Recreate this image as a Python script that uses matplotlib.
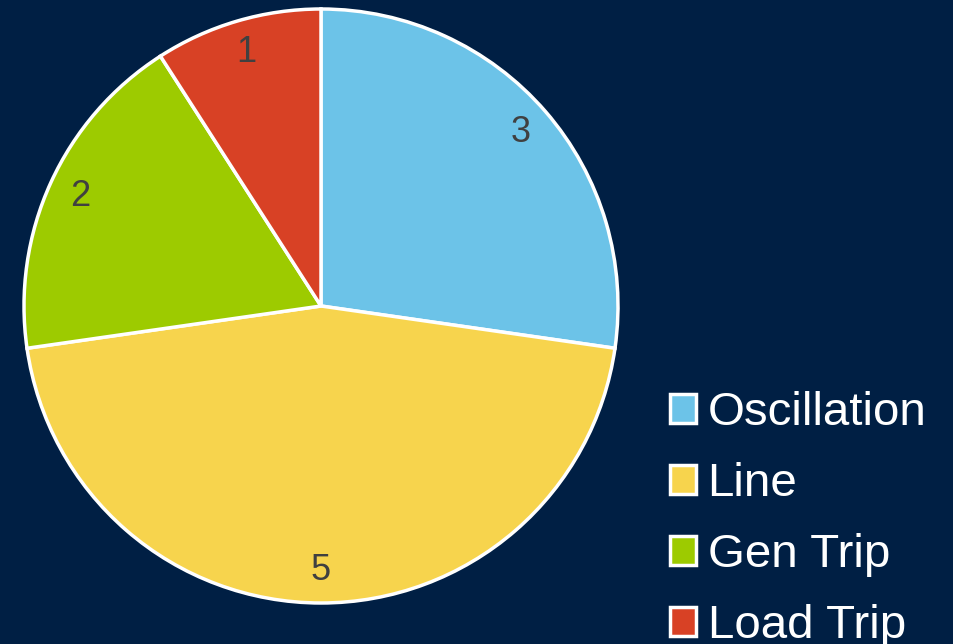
import matplotlib.pyplot as plt
from matplotlib.patches import Patch

plt.rcParams['font.family'] = ['Liberation Sans', 'DejaVu Sans']

# data
categories = ["Oscillation", "Line", "Gen Trip", "Load Trip"]
counts = [3, 5, 2, 1]
colors = ["#6cc3e8", "#f7d44d", "#9dcb00", "#d84125"]
bg = "#001f44"

W, H = 954, 644
fig = plt.figure(figsize=(W / 100, H / 100), dpi=100, facecolor=bg)

# pie centre (321, 306) px, radius 297 px
cx, cy, r = 321, 306, 297
ax = fig.add_axes([(cx - r) / W, (H - cy - r) / H, 2 * r / W, 2 * r / H])
ax.set_facecolor(bg)

total = sum(counts)
wedges, texts, autotexts = ax.pie(
    counts, colors=colors, startangle=90, counterclock=False,
    autopct=lambda p: f"{round(p * total / 100):d}", pctdistance=0.89,
    wedgeprops=dict(edgecolor="white", linewidth=2.5),
    textprops=dict(color="#404040", fontsize=26),
)
ax.set_xlim(-1, 1)
ax.set_ylim(-1, 1)
ax.set_aspect("equal")

# legend runs off the bottom edge, as in the original slide
handles = [Patch(facecolor=c, edgecolor="white", linewidth=2.5) for c in colors]
leg = fig.legend(
    handles, categories, loc="upper left",
    bbox_to_anchor=(670 / W, 1 - 391 / H), frameon=False,
    fontsize=34.2, labelcolor="white",
    handlelength=0.55, handleheight=0.55, handletextpad=0.24,
    labelspacing=0.57, borderpad=0, borderaxespad=0,
)

fig.savefig("out.png", dpi=100, facecolor=bg)
